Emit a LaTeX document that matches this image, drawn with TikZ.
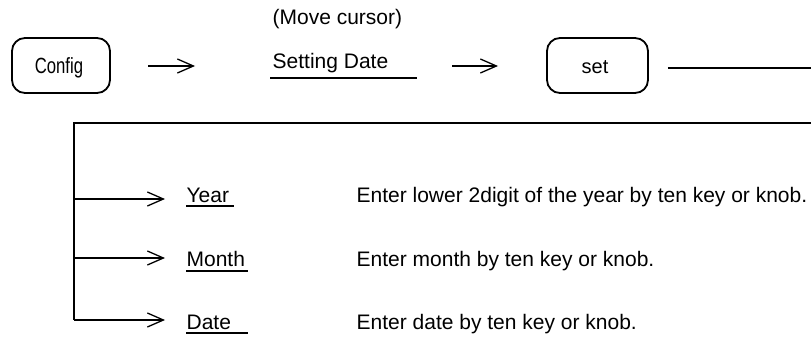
\documentclass[tikz,border=0pt]{standalone}
\usepackage{fontspec}
\setmainfont{Liberation Sans}
\usetikzlibrary{arrows.meta}
\begin{document}
\begin{tikzpicture}[x=1pt,y=-1pt,
  line width=1.3pt,
  keybox/.style={draw,line width=1.8pt,rounded corners=13pt,minimum height=55pt,inner sep=0pt},
  txt/.style={inner sep=0pt,anchor=base west,font=\fontsize{21}{24}\selectfont},
  arr/.style={-{Straight Barb[length=16pt,width=14pt,line width=1.3pt]}},
  uline/.style={line width=1.3pt}]
\useasboundingbox (0,0) rectangle (811,337);
% top row
\node[keybox,minimum width=98pt] (config) at (61,65.5) {};
\node[inner sep=0pt,anchor=base] (configtxt) at (59,74) {\fontsize{22}{24}\selectfont\scalebox{0.76}[1]{Config}};
\node[txt] (move) at (272,25) {(Move cursor)};
\node[txt] (sdate) at (272,69) {Setting Date};
\draw[uline] ([yshift=-9pt,xshift=-2pt]sdate.base west) -- ++(147,0);
\node[keybox,minimum width=101pt] (set) at (597.5,65.5) {};
\node[inner sep=0pt,anchor=base] (settxt) at (595,74) {\fontsize{20}{24}\selectfont set};
\coordinate (a1s) at (148,66);
\coordinate (a1e) at (195,66);
\draw[arr] (a1s) -- (a1e);
\coordinate (a2s) at (452,66);
\coordinate (a2e) at (498,66);
\draw[arr] (a2s) -- (a2e);
\coordinate (setout) at (811,68);
\draw[shorten <=19pt] (set.east |- setout) -- (setout);
% bracket
\coordinate (brtop) at (74,123);
\coordinate (brright) at (811,123);
\coordinate (brbot) at (74,320);
\draw (brright) -- (brtop) -- (brbot);
% entries
\node[txt] (year) at (186,202) {Year};
\node[txt] (month) at (186,266) {Month};
\node[txt] (date) at (186,329) {Date};
\draw[uline] ([yshift=-4pt]year.base west) -- ++(48,0);
\draw[uline] ([yshift=-5pt]month.base west) -- ++(62,0);
\draw[uline] ([yshift=-4pt]date.base west) -- ++(62,0);
\node[txt] (dyear) at (356,202) {Enter lower 2digit of the year by ten key or knob.};
\node[txt] (dmonth) at (356,266) {Enter month by ten key or knob.};
\node[txt] (ddate) at (356,329) {Enter date by ten key or knob.};
\coordinate (byear) at (74,199);
\coordinate (bmonth) at (74,258);
\draw[arr,shorten >=21pt] (byear) -- (byear -| year.west);
\draw[arr,shorten >=21pt] (bmonth) -- (bmonth -| month.west);
\draw[arr,shorten >=21pt] (brbot) -- (brbot -| date.west);
\end{tikzpicture}
\end{document}
